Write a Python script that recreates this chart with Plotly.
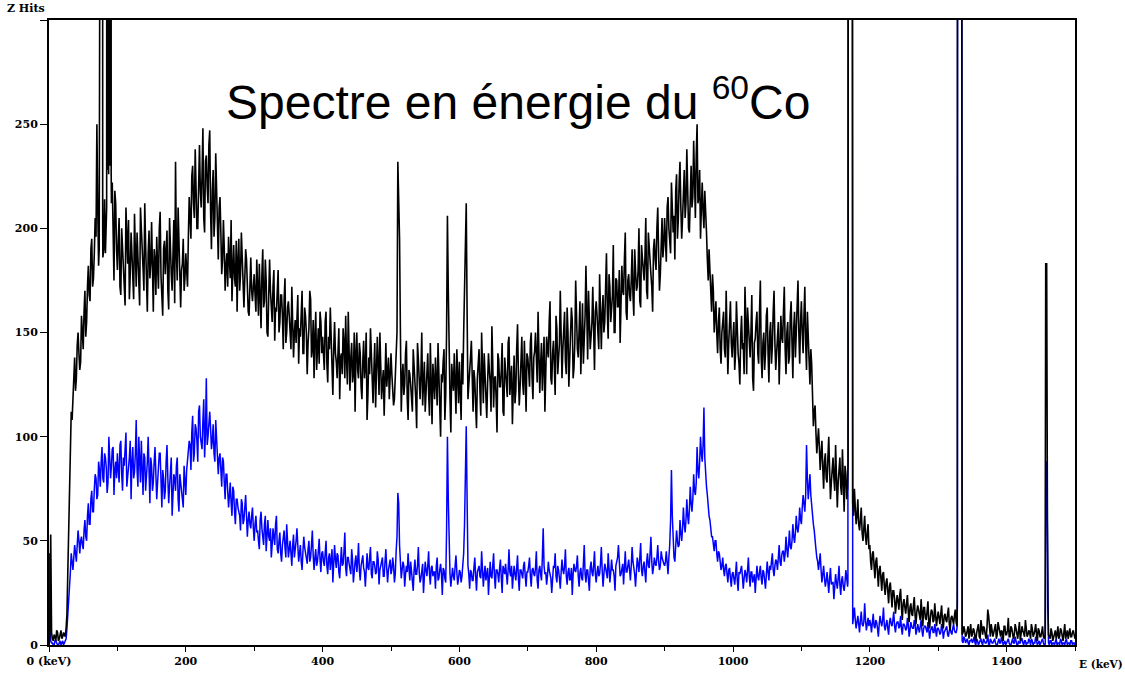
import plotly.graph_objects as go

# Energy bins (keV): main bins every 2.5 keV, plus the in-between bins
energy_kev = [i * 2.5 for i in range(601)]
energy_mid_kev = [1.25 + i * 2.5 for i in range(600)]

# Black spectrum (counts), bins at 0, 2.5, 5 ... keV (50 keV per row)
hits_black = [
    0, 53, 3, 5, 2, 6, 3, 7, 4, 5, 8, 35, 80, 112, 120, 138, 128, 150, 132, 158,
    142, 170, 155, 182, 165, 195, 176, 205, 250, 182, 190, 195, 190, 188, 230, 230, 230, 222, 175, 212,
    180, 205, 168, 192, 175, 210, 183, 166, 198, 178, 207, 172, 190, 163, 200, 181, 212, 169, 188, 176,
    203, 160, 185, 196, 171, 208, 165, 190, 178, 199, 161, 186, 170, 204, 232, 175, 195, 162, 183, 170,
    188, 172, 215, 195, 230, 205, 222, 200, 240, 210, 248, 198, 235, 212, 247, 190, 228, 205, 222, 185,
    215, 178, 204, 170, 188, 196, 176, 165, 192, 172, 160, 195, 178, 184, 162, 190, 170, 158, 186, 165,
    178, 160, 170, 183, 152, 190, 165, 175, 148, 185, 162, 172, 146, 160, 180, 155, 168, 142, 176, 150,
    165, 150, 172, 138, 156, 163, 135, 148, 170, 140, 158, 130, 152, 166, 142, 128, 160, 146, 135, 155,
    148, 132, 160, 126, 142, 150, 120, 155, 136, 145, 118, 140, 152, 128, 137, 160, 122, 145, 130, 112,
    150, 128, 140, 118, 146, 134, 108, 138, 152, 125, 132, 114, 148, 120, 136, 126, 110, 145, 131, 118,
    140, 122, 118, 138, 232, 195, 112, 135, 125, 146, 108, 130, 120, 142, 127, 104, 137, 118, 150, 124,
    112, 133, 121, 145, 106, 128, 138, 115, 130, 100, 126, 142, 120, 206, 132, 102, 128, 140, 111, 126,
    136, 108, 125, 175, 212, 118, 130, 146, 112, 127, 104, 138, 122, 150, 116, 131, 109, 140, 126, 153,
    114, 129, 102, 137, 124, 145, 110, 132, 119, 148, 127, 106, 139, 122, 154, 115, 134, 126, 146, 112,
    138, 124, 150, 118, 141, 130, 160, 121, 145, 133, 112, 148, 138, 165, 125, 146, 120, 152, 140, 170,
    128, 150, 136, 162, 124, 148, 156, 133, 175, 142, 158, 130, 164, 146, 182, 137, 160, 148, 172, 132,
    165, 150, 178, 142, 168, 155, 188, 147, 172, 160, 192, 150, 175, 163, 145, 182, 168, 198, 156, 178,
    165, 190, 158, 183, 172, 200, 162, 186, 175, 205, 166, 190, 178, 160, 195, 180, 210, 170, 196, 186,
    205, 184, 215, 192, 222, 198, 185, 226, 204, 232, 195, 218, 205, 238, 200, 225, 210, 242, 205, 250,
    215, 195, 222, 200, 210, 185, 190, 168, 178, 150, 165, 140, 162, 135, 158, 142, 170, 130, 155, 145,
    148, 132, 165, 140, 125, 158, 145, 172, 130, 152, 138, 168, 122, 147, 160, 135, 175, 128, 150, 140,
    162, 126, 155, 143, 170, 132, 150, 125, 158, 145, 172, 130, 155, 138, 165, 128, 160, 148, 175, 135,
    165, 140, 172, 132, 150, 125, 135, 105, 115, 92, 104, 84, 98, 75, 92, 78, 100, 70, 88, 80,
    96, 66, 85, 76, 94, 64, 82, 76, 300, 300, 68, 75, 58, 70, 55, 66, 50, 62, 48, 58,
    48, 36, 45, 32, 42, 28, 38, 26, 35, 24, 32, 20, 30, 18, 26, 15, 24, 17, 27, 12,
    22, 15, 24, 11, 20, 14, 23, 10, 19, 13, 22, 9, 18, 12, 21, 8, 17, 11, 20, 9,
    16, 10, 19, 8, 15, 11, 18, 7, 14, 10, 17, 9, 300, 300, 5, 9, 4, 8, 3, 10,
    5, 7, 2, 9, 4, 12, 5, 8, 3, 17, 6, 10, 4, 8, 3, 11, 5, 7, 2, 9,
    5, 13, 4, 8, 3, 10, 6, 7, 2, 9, 5, 12, 4, 7, 3, 8, 5, 10, 2, 7,
    4, 9, 3, 150, 150, 4, 8, 2, 6, 3, 9, 4, 7, 2, 10, 5, 3, 8, 4, 7,
    3,
]

# Black spectrum, in-between bins at 1.25, 3.75 ... keV
hits_black_mid = [
    4, 6, 2, 4, 7, 2, 5, 3, 6, 4, 15, 58, 98, 108, 132, 122, 144, 140, 136, 150,
    160, 148, 172, 168, 190, 172, 188, 196, 210, 200, 200, 186, 214, 200, 230, 230, 212, 196, 218, 190,
    194, 172, 200, 185, 163, 196, 204, 178, 188, 166, 182, 198, 175, 210, 184, 170, 192, 160, 199, 183,
    176, 190, 168, 182, 200, 177, 158, 194, 186, 170, 205, 178, 192, 164, 188, 210, 168, 180, 195, 176,
    180, 196, 205, 225, 212, 238, 200, 230, 218, 226, 205, 232, 220, 240, 208, 218, 196, 236, 200, 210,
    198, 185, 190, 182, 172, 185, 204, 180, 176, 194, 185, 170, 198, 166, 176, 185, 160, 178, 170, 172,
    168, 185, 158, 172, 178, 162, 185, 150, 168, 170, 155, 180, 162, 174, 150, 168, 158, 166, 145, 162,
    158, 142, 160, 150, 145, 168, 152, 158, 140, 162, 150, 145, 170, 138, 156, 148, 132, 152, 160, 140,
    140, 155, 135, 148, 162, 132, 142, 140, 128, 152, 138, 130, 145, 158, 125, 142, 138, 126, 150, 140,
    132, 145, 124, 136, 128, 150, 120, 130, 140, 116, 145, 128, 135, 150, 118, 132, 140, 124, 138, 128,
    130, 115, 128, 150, 215, 150, 128, 120, 140, 118, 132, 125, 112, 135, 118, 145, 126, 130, 115, 136,
    124, 140, 110, 128, 135, 118, 124, 145, 112, 130, 136, 108, 150, 170, 118, 135, 122, 128, 142, 116,
    122, 140, 150, 200, 160, 125, 138, 120, 132, 115, 128, 142, 110, 130, 140, 118, 126, 132, 112, 135,
    128, 118, 140, 124, 132, 112, 138, 126, 145, 120, 134, 128, 116, 142, 130, 124, 148, 120, 132, 140,
    132, 145, 128, 138, 150, 126, 140, 135, 122, 148, 130, 142, 155, 128, 140, 134, 158, 130, 145, 138,
    142, 160, 130, 150, 140, 162, 128, 145, 152, 138, 165, 148, 135, 158, 150, 170, 142, 155, 138, 160,
    158, 142, 165, 160, 150, 172, 160, 178, 155, 168, 150, 176, 162, 180, 158, 170, 185, 160, 175, 168,
    175, 168, 190, 170, 180, 165, 192, 178, 186, 170, 198, 180, 172, 190, 185, 200, 188, 178, 205, 192,
    196, 210, 200, 188, 212, 206, 218, 195, 222, 210, 205, 228, 212, 220, 198, 230, 215, 222, 235, 212,
    228, 210, 208, 218, 198, 175, 182, 160, 170, 158, 150, 155, 142, 150, 160, 138, 150, 145, 165, 138,
    155, 140, 150, 135, 148, 142, 130, 155, 162, 140, 150, 128, 145, 155, 140, 160, 138, 145, 132, 158,
    140, 150, 135, 160, 145, 140, 155, 138, 148, 160, 142, 150, 135, 158, 145, 152, 138, 165, 150, 155,
    150, 158, 145, 160, 138, 142, 120, 112, 102, 98, 95, 92, 85, 88, 80, 90, 84, 78, 90, 74,
    84, 78, 90, 72, 80, 86, 70, 80, 300, 80, 62, 66, 62, 58, 60, 54, 56, 52, 54, 46,
    40, 44, 38, 40, 35, 36, 32, 34, 28, 30, 26, 28, 24, 26, 22, 20, 21, 24, 18, 20,
    18, 20, 16, 18, 15, 19, 14, 16, 17, 12, 15, 18, 13, 16, 11, 14, 16, 12, 14, 13,
    13, 15, 11, 14, 12, 15, 10, 13, 12, 14, 11, 300, 300, 300, 6, 7, 5, 9, 6, 4,
    8, 4, 6, 10, 3, 7, 9, 5, 8, 14, 4, 7, 6, 10, 5, 8, 4, 6, 9, 5,
    7, 4, 9, 6, 5, 8, 3, 11, 6, 7, 4, 9, 5, 6, 10, 4, 7, 5, 8, 4,
    6, 4, 5, 150, 5, 3, 6, 4, 7, 5, 3, 8, 4, 6, 3, 7, 5, 4, 6, 5,
]

# Blue spectrum (counts), bins at 0, 2.5, 5 ... keV
hits_blue = [
    0, 2, 1, 0, 2, 0, 1, 0, 2, 1, 3, 14, 28, 44, 36, 48, 40, 55, 44, 52,
    46, 60, 50, 68, 58, 74, 64, 82, 70, 88, 76, 95, 78, 90, 73, 100, 80, 94, 72, 88,
    92, 78, 98, 74, 86, 102, 80, 90, 70, 95, 83, 108, 76, 88, 98, 72, 90, 80, 100, 68,
    86, 78, 95, 70, 84, 92, 66, 80, 74, 96, 68, 84, 62, 82, 74, 90, 64, 78, 70, 86,
    72, 90, 98, 84, 110, 92, 104, 88, 115, 96, 108, 90, 128, 100, 112, 94, 106, 88, 100, 82,
    92, 76, 88, 70, 82, 66, 78, 62, 74, 58, 70, 64, 55, 68, 60, 72, 52, 64, 56, 66,
    50, 62, 55, 46, 64, 52, 58, 45, 60, 50, 42, 56, 48, 62, 44, 54, 40, 52, 47, 58,
    42, 50, 38, 53, 45, 56, 40, 48, 36, 52, 44, 39, 50, 42, 55, 36, 46, 40, 51, 35,
    45, 38, 50, 34, 44, 40, 30, 48, 37, 43, 32, 47, 39, 54, 33, 42, 36, 46, 30, 40,
    35, 49, 31, 41, 37, 28, 44, 36, 47, 32, 40, 34, 45, 29, 38, 42, 33, 46, 30, 39,
    34, 42, 30, 45, 73, 48, 32, 40, 28, 38, 44, 31, 36, 26, 41, 34, 47, 30, 37, 25,
    40, 33, 45, 29, 38, 35, 27, 42, 32, 39, 24, 36, 30, 100, 40, 28, 37, 31, 43, 29,
    36, 30, 40, 58, 105, 38, 27, 35, 31, 42, 26, 37, 33, 45, 28, 38, 34, 24, 40, 32,
    44, 27, 36, 30, 41, 25, 35, 39, 29, 46, 33, 27, 38, 31, 43, 26, 36, 32, 40, 28,
    35, 42, 28, 37, 33, 45, 27, 38, 31, 56, 34, 29, 40, 33, 25, 38, 44, 30, 36, 27,
    41, 34, 46, 29, 37, 32, 24, 39, 35, 43, 28, 37, 31, 48, 30, 36, 26, 40, 33, 45,
    30, 38, 34, 47, 28, 39, 35, 44, 30, 41, 36, 26, 40, 48, 33, 38, 29, 45, 35, 41,
    31, 47, 37, 28, 42, 35, 49, 33, 40, 30, 44, 37, 52, 34, 42, 38, 48, 36, 45, 40,
    38, 45, 34, 48, 84, 46, 40, 55, 47, 60, 50, 66, 54, 70, 58, 76, 64, 82, 72, 95,
    80, 100, 88, 114, 80, 72, 62, 56, 52, 45, 50, 40, 44, 36, 42, 33, 39, 30, 37, 28,
    35, 29, 40, 26, 34, 38, 27, 36, 30, 42, 28, 35, 32, 25, 38, 31, 38, 29, 35, 27,
    40, 31, 36, 44, 33, 41, 36, 48, 38, 45, 40, 52, 42, 55, 46, 58, 49, 62, 54, 66,
    58, 72, 64, 96, 70, 82, 66, 58, 48, 42, 36, 44, 30, 38, 28, 35, 25, 37, 30, 22,
    34, 27, 38, 24, 33, 26, 36, 28, 300, 300, 10, 18, 8, 14, 6, 16, 9, 20, 7, 13,
    12, 6, 15, 8, 11, 4, 14, 9, 18, 7, 12, 5, 13, 9, 16, 6, 11, 8, 14, 5,
    10, 7, 13, 4, 11, 8, 12, 5, 10, 6, 12, 4, 9, 7, 11, 3, 8, 6, 10, 4,
    8, 5, 10, 3, 7, 9, 4, 8, 5, 10, 6, 8, 300, 300, 2, 4, 1, 3, 0, 2,
    1, 4, 0, 2, 1, 3, 0, 2, 1, 5, 0, 2, 1, 3, 0, 2, 1, 4, 0, 2,
    1, 3, 0, 2, 1, 4, 0, 2, 1, 3, 0, 2, 1, 3, 0, 2, 1, 4, 0, 2,
    1, 3, 0, 80, 80, 0, 2, 1, 0, 3, 1, 0, 2, 1, 0, 3, 1, 0, 2, 1,
    0,
]

# Blue spectrum, in-between bins at 1.25, 3.75 ... keV
hits_blue_mid = [
    30, 1, 0, 2, 1, 0, 2, 1, 0, 2, 8, 22, 35, 40, 42, 44, 48, 50, 50, 48,
    55, 52, 62, 58, 70, 64, 75, 80, 72, 84, 88, 80, 92, 85, 78, 90, 86, 95, 84, 80,
    84, 96, 82, 90, 94, 76, 86, 98, 88, 80, 92, 84, 100, 78, 85, 92, 74, 88, 82, 90,
    74, 88, 82, 78, 92, 74, 84, 70, 88, 80, 76, 90, 72, 80, 86, 70, 82, 76, 66, 80,
    84, 92, 96, 102, 88, 106, 98, 112, 100, 94, 118, 102, 96, 110, 104, 98, 92, 108, 94, 90,
    84, 90, 78, 82, 74, 72, 68, 76, 64, 70, 66, 62, 70, 58, 66, 62, 60, 58, 62, 56,
    58, 54, 50, 60, 56, 48, 62, 54, 52, 56, 48, 52, 58, 46, 50, 44, 48, 55, 42, 50,
    46, 44, 48, 42, 50, 46, 44, 40, 45, 47, 41, 46, 40, 48, 43, 42, 38, 45, 41, 44,
    40, 44, 38, 42, 36, 46, 38, 41, 44, 35, 40, 38, 45, 37, 42, 39, 34, 41, 37, 43,
    40, 36, 38, 43, 35, 39, 37, 42, 34, 40, 38, 35, 41, 36, 39, 33, 40, 37, 36, 41,
    36, 38, 34, 52, 68, 40, 36, 38, 34, 35, 37, 40, 33, 36, 34, 38, 35, 32, 39, 34,
    36, 38, 34, 37, 33, 35, 38, 31, 36, 34, 37, 32, 55, 70, 34, 36, 33, 38, 35, 32,
    35, 33, 44, 80, 70, 34, 36, 31, 37, 33, 35, 38, 32, 36, 34, 31, 37, 35, 33, 38,
    33, 36, 34, 37, 32, 38, 34, 31, 36, 35, 38, 33, 34, 37, 32, 36, 34, 38, 33, 35,
    38, 33, 36, 34, 37, 31, 36, 34, 42, 38, 35, 33, 36, 32, 35, 37, 33, 38, 32, 35,
    36, 38, 33, 35, 31, 37, 34, 36, 38, 33, 35, 32, 39, 34, 36, 31, 37, 35, 38, 34,
    35, 33, 39, 36, 34, 37, 32, 38, 35, 36, 33, 38, 42, 36, 34, 39, 37, 35, 38, 36,
    38, 40, 34, 37, 39, 42, 36, 38, 35, 40, 38, 44, 40, 37, 39, 42, 40, 38, 42, 39,
    40, 38, 42, 60, 62, 42, 46, 50, 48, 54, 56, 58, 60, 62, 65, 68, 70, 74, 78, 84,
    88, 92, 96, 90, 76, 66, 60, 52, 48, 50, 44, 45, 40, 38, 36, 38, 34, 36, 32, 34,
    32, 34, 31, 35, 36, 33, 32, 34, 36, 33, 35, 30, 34, 32, 33, 35, 32, 36, 31, 34,
    35, 38, 40, 36, 38, 40, 42, 40, 43, 45, 44, 46, 48, 47, 50, 52, 54, 56, 58, 60,
    66, 68, 72, 80, 76, 72, 62, 55, 46, 40, 40, 36, 34, 32, 31, 30, 32, 29, 30, 28,
    30, 32, 29, 31, 28, 30, 32, 300, 300, 300, 14, 12, 11, 10, 12, 10, 11, 12, 10, 9,
    10, 11, 9, 12, 8, 10, 11, 12, 9, 10, 8, 11, 10, 12, 9, 10, 11, 9, 8, 10,
    9, 8, 10, 7, 9, 8, 10, 7, 8, 9, 7, 8, 9, 6, 8, 7, 9, 6, 7, 8,
    7, 6, 8, 6, 8, 5, 7, 6, 8, 7, 6, 300, 300, 300, 1, 3, 2, 1, 2, 3,
    2, 1, 3, 0, 2, 1, 3, 1, 2, 0, 3, 1, 2, 1, 0, 3, 1, 2, 1, 0,
    2, 1, 0, 3, 1, 2, 0, 1, 3, 1, 2, 0, 1, 2, 3, 0, 1, 2, 1, 0,
    2, 1, 0, 80, 1, 2, 0, 1, 2, 0, 1, 3, 0, 1, 2, 0, 1, 2, 0, 1,
]

# Narrow peaks, sampled finer than the bins (keV, counts)
peak_xray_a_kev = [73.4, 73.6, 78.3, 78.5]
peak_xray_a_black = [190, 1000, 1000, 200]
peak_xray_b_kev = [84.3, 84.8, 85.6, 86.4, 87.2, 88.0, 88.8, 89.6, 90.4, 90.9]
peak_xray_b_black = [210, 1000, 228, 1000, 226, 1000, 230, 1000, 1000, 226]
peak_1173_kev_black = [1168.3, 1168.8, 1173.5, 1174.2]
peak_1173_black = [88, 1000, 1000, 72]
peak_1332_kev_black = [1328.0, 1328.6, 1333.6, 1334.2, 1334.8]
peak_1332_black = [42, 1000, 1000, 35, 6]
peak_1460_kev_black = [1456.3, 1456.8, 1457.2, 1458.6, 1459.2, 1459.6, 1460.2, 1461.0]
peak_1460_black = [5, 60, 183, 183, 150, 70, 20, 6]

peak_low_kev_blue = [1.0, 1.6, 2.2]
peak_low_blue = [44, 28, 9]
peak_1173_kev_blue = [1168.0, 1168.6, 1173.8, 1174.4]
peak_1173_blue = [30, 1000, 1000, 12]
peak_1332_kev_blue = [1328.1, 1328.5, 1333.7, 1334.3, 1334.9]
peak_1332_blue = [20, 1000, 1000, 10, 2]
peak_1460_kev_blue = [1456.5, 1457.0, 1457.4, 1458.6, 1459.2, 1460.0, 1461.0]
peak_1460_blue = [1, 30, 88, 88, 60, 15, 1]

x_tickvals = [0, 200, 400, 600, 800, 1000, 1200, 1400]
x_ticktext = ["0 (keV)", "200", "400", "600", "800", "1000", "1200", "1400"]
y_tickvals = [0, 50, 100, 150, 200, 250, 300]
y_ticktext = ["0", "50", "100", "150", "200", "250", " "]

assert len(hits_black) == len(energy_kev), len(hits_black)
assert len(hits_blue) == len(energy_kev), len(hits_blue)
assert len(hits_black_mid) == len(energy_mid_kev), len(hits_black_mid)
assert len(hits_blue_mid) == len(energy_mid_kev), len(hits_blue_mid)


def merge(grids, peaks):
    pts = []
    for ge, gv in grids:
        pts += list(zip(ge, gv))
    for pe, pv in peaks:
        lo, hi = min(pe), max(pe)
        pts = [p for p in pts if not (lo < p[0] < hi)]
        pts += list(zip(pe, pv))
    pts.sort(key=lambda p: p[0])
    return [p[0] for p in pts], [p[1] for p in pts]


xb, yb = merge(
    [(energy_kev, hits_black), (energy_mid_kev, hits_black_mid)],
    [(peak_xray_a_kev, peak_xray_a_black),
     (peak_xray_b_kev, peak_xray_b_black),
     (peak_1173_kev_black, peak_1173_black),
     (peak_1332_kev_black, peak_1332_black),
     (peak_1460_kev_black, peak_1460_black)])
xl, yl = merge(
    [(energy_kev, hits_blue), (energy_mid_kev, hits_blue_mid)],
    [(peak_low_kev_blue, peak_low_blue),
     (peak_1173_kev_blue, peak_1173_blue),
     (peak_1332_kev_blue, peak_1332_blue),
     (peak_1460_kev_blue, peak_1460_blue)])

fig = go.Figure()
fig.add_trace(go.Scatter(x=xl, y=yl, mode="lines",
                         line=dict(color="#0000ff", width=1.5), showlegend=False))
fig.add_trace(go.Scatter(x=xb, y=yb, mode="lines",
                         line=dict(color="#000000", width=1.6), showlegend=False))

tick_font = dict(family="DejaVu Serif", size=11, color="black", weight="bold")

fig.update_layout(
    width=1125, height=680,
    margin=dict(l=49, r=50, t=20, b=29, pad=0),
    paper_bgcolor="white", plot_bgcolor="white",
    xaxis=dict(range=[0, 1500], showgrid=False, zeroline=False,
               showline=True, linewidth=2, linecolor="black", mirror=True,
               tickmode="array", tickvals=x_tickvals, ticktext=x_ticktext,
               ticks="outside", ticklen=5, tickwidth=1, tickcolor="black",
               minor=dict(tick0=0, dtick=100, ticks="outside", ticklen=4,
                          tickwidth=1, tickcolor="black"),
               tickfont=tick_font),
    yaxis=dict(range=[0, 300], showgrid=False, zeroline=False,
               showline=True, linewidth=2, linecolor="black", mirror=True,
               tickmode="array", tickvals=y_tickvals, ticktext=y_ticktext,
               ticks="outside", ticklen=7, tickwidth=1, tickcolor="black",
               tickfont=tick_font),
    annotations=[
        dict(text="Spectre en énergie du <sup>60</sup>Co", xref="paper", yref="paper",
             x=0.457, y=0.873, xanchor="center", yanchor="middle", showarrow=False,
             font=dict(family="Liberation Sans", size=48, color="black")),
        dict(text="Z Hits", xref="paper", yref="paper", x=-0.043, y=1.019,
             xanchor="left", yanchor="middle", showarrow=False, font=tick_font),
        dict(text="E (keV)", xref="paper", yref="paper", x=1.0015, y=-0.030,
             xanchor="left", yanchor="middle", showarrow=False,
             font=dict(family="DejaVu Serif", size=10.5, color="black", weight="bold")),
    ],
)

fig.write_html("out.html")
